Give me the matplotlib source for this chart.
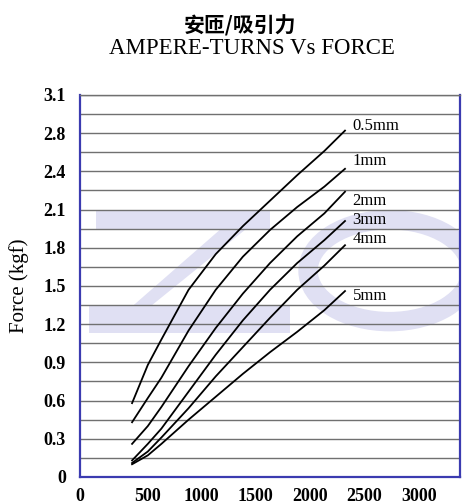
import matplotlib
matplotlib.use("Agg")
import matplotlib.pyplot as plt
from matplotlib.patches import Polygon, Ellipse, Rectangle
from matplotlib.transforms import ScaledTranslation

# données
amp_turns = [480, 625, 750, 1000, 1250, 1500, 1750, 2000, 2250, 2440]
force_05 = [0.58, 0.88, 1.08, 1.47, 1.75, 1.97, 2.17, 2.37, 2.56, 2.72]
force_1 = [0.43, 0.62, 0.78, 1.15, 1.47, 1.73, 1.94, 2.12, 2.28, 2.42]
force_2 = [0.26, 0.40, 0.55, 0.87, 1.17, 1.44, 1.68, 1.89, 2.07, 2.24]
force_3 = [0.13, 0.26, 0.38, 0.67, 0.96, 1.23, 1.47, 1.68, 1.86, 2.01]
force_4 = [0.11, 0.20, 0.31, 0.54, 0.79, 1.02, 1.25, 1.47, 1.66, 1.82]
force_5 = [0.10, 0.17, 0.26, 0.45, 0.63, 0.81, 0.98, 1.14, 1.31, 1.46]
courbes = [force_05, force_1, force_2, force_3, force_4, force_5]
noms = ["0.5mm", "1mm", "2mm", "3mm", "4mm", "5mm"]
pos_noms = [2.76, 2.48, 2.17, 2.02, 1.87, 1.42]

y_ticks = [0, 0.3, 0.6, 0.9, 1.2, 1.5, 1.8, 2.1, 2.4, 2.7, 3.0]
y_labels = ["0", "0.3", "0.6", "0.9", "1.2", "1.5", "1.8", "2.1", "2.4", "2.8", "3.1"]
x_ticks = [0, 500, 1000, 1500, 2000, 2500, 3000]

serif = "Liberation Serif"
bleu = "#3b3bb0"
gris = "#707070"
filigrane = "#e0e0f3"

fig = plt.figure(figsize=(4.62, 5.04), dpi=100)
ax = fig.add_axes([0.173, 0.0536, 0.823, 0.758])

# filigrane (logo en fond)
ax.add_patch(Rectangle((150, 1.95), 1600, 0.15, color=filigrane, zorder=0, lw=0))
ax.add_patch(Polygon([(200, 1.13), (650, 1.34), (1750, 2.10), (1300, 1.95)],
                     color=filigrane, zorder=0, lw=0))
ax.add_patch(Rectangle((80, 1.13), 1850, 0.21, color=filigrane, zorder=0, lw=0))
ax.add_patch(Ellipse((2850, 1.62), 1500, 0.80, fill=False, edgecolor=filigrane,
                     lw=14, zorder=0))

for y, nom, yl in zip(courbes, noms, pos_noms):
    ax.plot(amp_turns, y, color="black", lw=1.3, zorder=3)
    ax.text(2510, yl, nom, fontsize=12, family=serif, va="center", ha="left", zorder=4)

ax.set_xlim(0, 3500)
ax.set_ylim(0, 3.0)
ax.set_xticks(x_ticks)
ax.set_xticklabels([str(v) for v in x_ticks], family=serif, fontsize=13, fontweight="bold")
ax.set_xticks(range(500, 3500, 500), minor=True)
ax.set_yticks(y_ticks)
ax.set_yticklabels(y_labels, family=serif, fontsize=13, fontweight="bold")
ax.set_yticks([i * 0.15 for i in range(1, 20)], minor=True)
ax.tick_params(which="both", length=0)
ax.tick_params(axis="x", pad=8)
ax.tick_params(axis="y", pad=10)
ax.grid(which="minor", color=gris, lw=1.0, zorder=1)
ax.grid(which="major", axis="y", color=gris, lw=1.0, zorder=1)

# décalage des étiquettes de l'axe x comme sur l'original
for lab in ax.get_xticklabels()[1:]:
    lab.set_transform(lab.get_transform() + ScaledTranslation(0.13, 0, fig.dpi_scale_trans))

for cote in ["left", "bottom", "right"]:
    ax.spines[cote].set_color(bleu)
    ax.spines[cote].set_linewidth(1.6)
ax.spines["top"].set_color(gris)
ax.spines["top"].set_linewidth(1.0)

ax.set_ylabel("Force (kgf)", family=serif, fontsize=15)
ax.yaxis.set_label_coords(-0.135, 0.5)

fig.text(0.52, 0.948, "安匝/吸引力", family=["Noto Sans CJK SC", "DejaVu Sans"],
         fontsize=15, fontweight="bold", ha="center", va="center")
fig.text(0.545, 0.903, "AMPERE-TURNS Vs FORCE", family=serif, fontsize=16.5,
         ha="center", va="center")

fig.savefig("out.png", dpi=100, facecolor="white")
